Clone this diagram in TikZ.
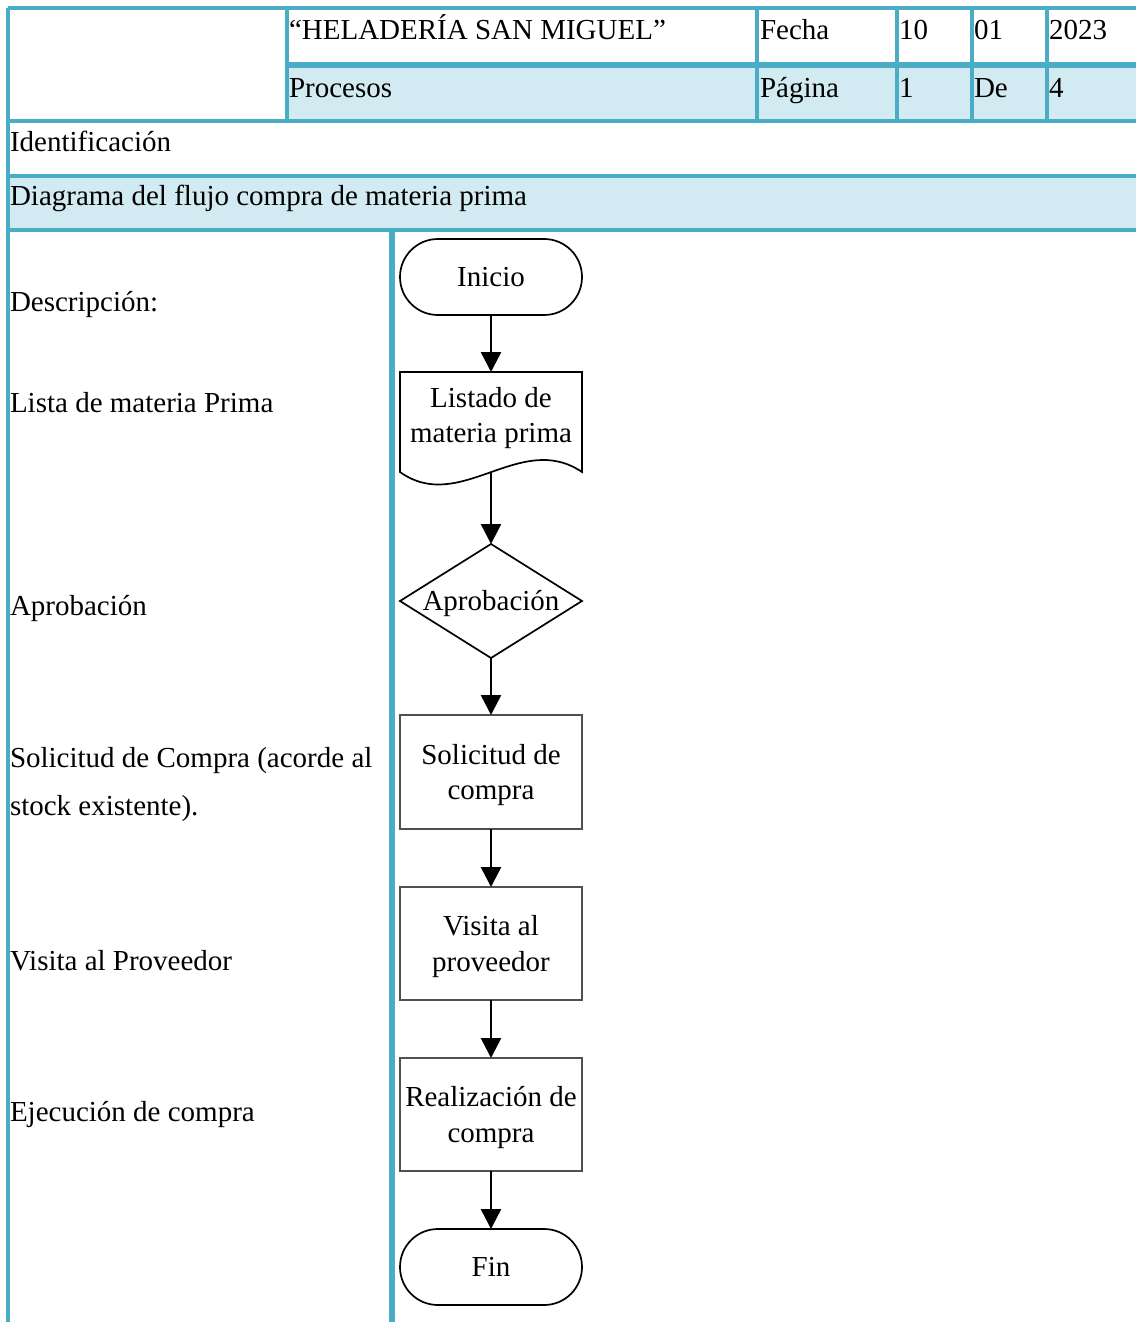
\documentclass[tikz,border=0pt]{standalone}
\usepackage{fontspec}
\setmainfont{Liberation Serif}
\usetikzlibrary{arrows.meta,calc}
\definecolor{tblline}{HTML}{4BACC6}
\definecolor{tblfill}{HTML}{D2EAF1}
\definecolor{boxline}{HTML}{505050}
\begin{document}
\begin{tikzpicture}[x=1pt,y=-1pt,
  every node/.style={font=\fontsize{29}{35.5}\selectfont, inner sep=0pt, outer sep=0pt},
  cell/.style={anchor=base west},
  rule/.style={draw=tblline, line width=3.2pt},
  thickrule/.style={draw=tblline, line width=5.5pt},
  term/.style={draw=black, line width=1.7pt, rounded corners=37.9pt,
    minimum width=182pt, minimum height=76pt},
  procbox/.style={draw=boxline, line width=1.3pt, minimum width=182pt,
    minimum height=114pt},
  frame/.style={minimum width=182pt},
  boxtext/.style={align=center},
  outline/.style={draw=black, line width=1.7pt},
  flow/.style={draw=black, line width=2.5pt, -{Triangle[length=20pt,width=20pt]}},
  ]
\useasboundingbox (0,0) rectangle (1136,1322);

% ---- header table: shaded rows ----
\fill[tblfill] (287,65) rectangle (1136,121);
\fill[tblfill] (8,176) rectangle (1136,230);

% ---- header table: rules ----
\draw[rule] (8,8) -- (1136,8);
\draw[thickrule] (287,65) -- (1136,65);
\draw[rule] (8,121) -- (1136,121);
\draw[rule] (8,176) -- (1136,176);
\draw[rule] (8,230) -- (1136,230);
\draw[rule] (8,8) -- (8,1322);
\draw[rule] (287,8) -- (287,121);
\draw[rule] (757,8) -- (757,121);
\draw[rule] (897,8) -- (897,121);
\draw[rule] (972,8) -- (972,121);
\draw[rule] (1047,8) -- (1047,121);
\draw[thickrule] (392,230) -- (392,1322);

% ---- header table: texts ----
\node[cell] (title) at (289,39.5) {“HELADERÍA SAN MIGUEL”};
\node[cell] (fecha) at (760,39.5) {Fecha};
\node[cell] (dia) at (899,39.5) {10};
\node[cell] (mes) at (974,39.5) {01};
\node[cell] (anio) at (1049,39.5) {2023};
\node[cell] (procesos) at (289,97) {Procesos};
\node[cell] (pagina) at (760,97) {Página};
\node[cell] (pag) at (899,97) {1};
\node[cell] (de) at (974,97) {De};
\node[cell] (total) at (1049,97) {4};
\node[cell] (ident) at (10,151.5) {Identificación};
\node[cell] (diag) at (10,205) {Diagrama del flujo compra de materia prima};

% ---- description column ----
\node[cell] (d0) at (10,311.5) {Descripción:};
\node[cell] (d1) at (10,412.5) {Lista de materia Prima};
\node[cell] (d2) at (10,615) {Aprobación};
\node[cell] (d3a) at (10,767) {Solicitud de Compra (acorde al};
\node[cell] (d3b) at (10,815) {stock existente).};
\node[cell] (d4) at (10,970.5) {Visita al Proveedor};
\node[cell] (d5) at (10,1121.5) {Ejecución de compra};

% ---- flowchart ----
\node[term] (ini) at (491,277) {Inicio};

\node[frame, minimum height=100pt] (list) at (491,422) {};
\draw[outline] (list.north west) -- (list.north east) -- (list.south east)
  .. controls ($(list.south east)+(-62,-42)$) and ($(list.south west)+(60,43)$)
  .. (list.south west) -- cycle;
\node[boxtext] (listtxt) at (491,418) {Listado de\\materia prima};

\node[frame, minimum height=114pt] (aprob) at (491,601) {};
\draw[outline] (aprob.north) -- (aprob.east) -- (aprob.south) -- (aprob.west) -- cycle;
\node[boxtext] (aprobtxt) at (491,603) {Aprobación};

\node[procbox] (sol) at (491,772) {};
\node[boxtext] (soltxt) at (491,775) {Solicitud de\\compra};
\node[procbox, minimum height=113pt] (vis) at (491,943.5) {};
\node[boxtext] (vistxt) at (491,946.5) {Visita al\\proveedor};
\node[procbox, minimum height=113pt] (real) at (491,1114.5) {};
\node[boxtext] (realtxt) at (491,1117.5) {Realización de\\compra};
\node[term] (fin) at (491,1267) {Fin};

\draw[flow] (ini.south) -- (list.north);
\draw[flow] (list.south) -- (aprob.north);
\draw[flow] (aprob.south) -- (sol.north);
\draw[flow] (sol.south) -- (vis.north);
\draw[flow] (vis.south) -- (real.north);
\draw[flow] (real.south) -- (fin.north);
\end{tikzpicture}
\end{document}
